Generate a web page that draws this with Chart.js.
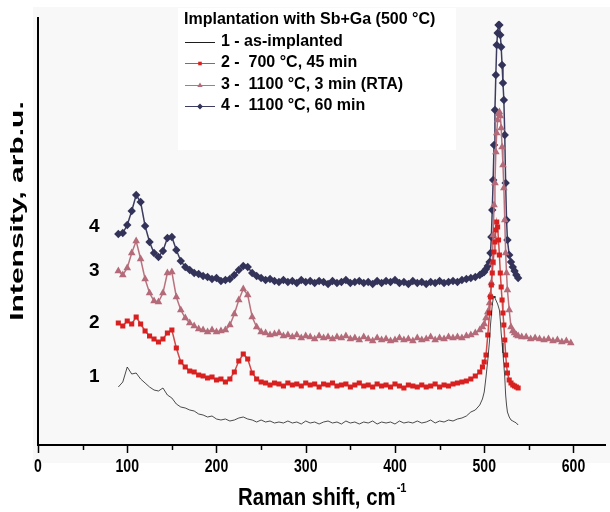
<!DOCTYPE html>
<html>
<head>
<meta charset="utf-8">
<script src="https://cdn.jsdelivr.net/npm/chart.js@4.4.0/dist/chart.umd.min.js"></script>
<style>
  html, body { margin: 0; padding: 0; background: #fff; }
</style>
</head>
<body>
<canvas id="raman" width="610" height="512"></canvas>
<script>
// Raman shift grid (cm-1), shared by spectra 1, 2 and 4
const shift = [
  90, 95, 100, 105, 110, 115, 120, 125, 130, 135,
  140, 145, 150, 155, 160, 165, 170, 175, 180, 185,
  190, 195, 200, 205, 210, 215, 220, 225, 230, 235,
  240, 245, 250, 255, 260, 265, 270, 275, 280, 285,
  290, 295, 300, 305, 310, 315, 320, 325, 330, 335,
  340, 345, 350, 355, 360, 365, 370, 375, 380, 385,
  390, 395, 400, 405, 410, 415, 420, 425, 430, 435,
  440, 445, 450, 455, 460, 465, 470, 475, 480, 485,
  490, 495,
  498, 500, 502, 504, 506, 507, 508, 509, 510, 511,
  512, 513, 514, 515, 516, 517, 518, 519, 520, 521,
  522, 523, 524, 525, 526, 528, 530, 532, 534, 536,
  538
];
// spectrum 3 runs on to ~600 cm-1
const shiftExt = [542, 547, 552, 557, 562, 567, 572, 577, 582, 587, 592, 597];

// intensities, arb.u. (curves already offset as in the figure)
const asImplanted = [
  58, 63, 78, 71, 72, 66, 62, 58, 55, 54,
  57, 50, 47, 41, 38, 37, 35, 34, 31, 30,
  28, 29, 26, 25, 26, 24, 25, 27, 28, 26,
  25, 23, 25, 23, 24, 22, 23, 22, 24, 22,
  23, 21, 24, 22, 23, 21, 23, 24, 22, 23,
  21, 24, 22, 23, 21, 23, 22, 24, 21, 23,
  22, 23, 21, 24, 22, 23, 22, 24, 22, 23,
  25, 22, 24, 23, 25, 24, 26, 27, 29, 33,
  35, 40,
  46, 53, 68, 85, 105, 120, 130, 140, 146, 149,
  147, 145, 143, 141, 138, 135, 125, 112, 102, 92,
  80, 68, 50, 40, 33, 28, 25, 24, 23, 22,
  20
];
const anneal700 = [
  122, 119, 124, 121, 128, 121, 114, 109, 106, 103,
  106, 112, 115, 97, 83, 78, 74, 73, 70, 69,
  67, 68, 65, 66, 63, 66, 73, 84, 91, 86,
  72, 66, 63, 62, 60, 62, 61, 59, 62, 60,
  61, 59, 62, 60, 61, 58, 61, 60, 62, 59,
  60, 61, 58, 60, 62, 59, 60, 58, 61, 59,
  60, 58, 61, 59, 57, 60, 59, 58, 60, 58,
  59, 61, 58, 60, 59, 61, 62, 63, 64, 66,
  69, 73,
  78, 83, 90, 110, 132, 148, 160, 172, 183, 193,
  203, 215, 223, 218, 205, 190, 172, 158, 145, 132,
  120, 105, 90, 80, 72, 65, 62, 60, 59, 58,
  57
];
const rta1100 = [
  174, 170, 177, 192, 204, 186, 166, 152, 144, 143,
  152, 172, 173, 148, 135, 127, 122, 119, 116, 115,
  113, 115, 113, 114, 115, 120, 131, 145, 156, 150,
  128, 118, 113, 112, 110, 111, 112, 109, 110, 108,
  110, 107, 109, 108, 106, 109, 107, 108, 106, 108,
  107, 109, 106, 107, 105, 108, 106, 104, 107, 105,
  106, 104, 105, 107, 105, 106, 104, 107, 105, 106,
  108, 105, 107, 106, 108, 107, 108, 107, 109, 110,
  112, 115,
  118, 121, 127, 133, 142, 150, 162, 182, 210, 240,
  262, 293, 312, 325, 331, 333, 329, 317, 298, 280,
  257, 225, 192, 172, 155, 135, 118, 114, 112, 110,
  109,
  108, 108, 106, 107, 106, 105, 106, 104, 105, 103, 104, 102
];
const anneal1100 = [
  211, 212, 220, 234, 250, 243, 219, 203, 192, 188,
  194, 207, 208, 195, 184, 178, 175, 172, 171, 169,
  168, 166, 167, 164, 165, 166, 170, 175, 179, 178,
  172, 169, 167, 165, 166, 164, 163, 165, 163, 164,
  162, 165, 163, 164, 162, 164, 163, 161, 164, 162,
  163, 165, 162, 163, 164, 162, 163, 161, 164, 162,
  164, 163, 165, 162, 163, 161, 164, 162, 163, 161,
  163, 162, 164, 162, 163, 164, 163, 165, 166, 167,
  168, 170,
  172, 173, 176, 179, 183, 192, 208, 235, 265, 300,
  335, 370, 400, 412, 420, 420, 410, 398, 380, 362,
  345, 310, 262, 225, 205, 190, 183, 178, 174, 170,
  167
];

const seriesNames = [
  '1 - as-implanted',
  '2 -  700 °C, 45 min',
  '3 -  1100 °C, 3 min (RTA)',
  '4 -  1100 °C, 60 min'
];
const curveTags = ['1', '2', '3', '4'];
const legendTitle = 'Implantation with Sb+Ga (500 °C)';
const xTicks = [0, 100, 200, 300, 400, 500, 600];

const FONT = "'Liberation Sans', Arial, sans-serif";

function pts(xs, ys) {
  return ys.map((v, i) => ({ x: xs[i], y: v }));
}

// text squeezed horizontally, like the scanned figure
function narrowText(ctx, text, x, y, sx, align) {
  ctx.save();
  ctx.translate(x, y);
  ctx.scale(sx, 1);
  ctx.textAlign = align;
  ctx.fillText(text, 0, 0);
  ctx.restore();
}

// background, legend, axis titles, tags, tick marks
const decor = {
  id: 'decor',
  beforeDraw(chart) {
    const ctx = chart.ctx;
    ctx.save();
    ctx.fillStyle = '#ffffff';
    ctx.fillRect(0, 0, chart.width, chart.height);
    ctx.fillStyle = '#f8f8f8';
    ctx.fillRect(33, 7, 577, 456);
    ctx.fillStyle = '#ffffff';
    ctx.fillRect(178, 8, 278, 142);
    ctx.restore();
  },
  afterDraw(chart) {
    const ctx = chart.ctx;
    const xs = chart.scales.x;
    const ys = chart.scales.y;
    const area = chart.chartArea;
    ctx.save();

    // tick marks every 50, longer at labelled ones
    ctx.strokeStyle = '#000';
    ctx.lineWidth = 1.5;
    for (let v = 0; v <= 600; v += 50) {
      const px = Math.round(xs.getPixelForValue(v)) + 0.5;
      const len = v % 100 === 0 ? 8 : 5;
      ctx.beginPath();
      ctx.moveTo(px, area.bottom);
      ctx.lineTo(px, area.bottom + len);
      ctx.stroke();
    }

    // tick labels
    ctx.fillStyle = '#000';
    ctx.font = 'bold 18px ' + FONT;
    ctx.textBaseline = 'middle';
    xs.ticks.forEach(t => {
      narrowText(ctx, String(t.value), xs.getPixelForValue(t.value), 467, 0.78, 'center');
    });

    // curve numbers on the left
    ctx.font = 'bold 19px ' + FONT;
    ctx.textAlign = 'center';
    const tagY = [68, 122, 174, 218];
    curveTags.forEach((t, i) => {
      ctx.fillText(t, xs.getPixelForValue(63), ys.getPixelForValue(tagY[i]));
    });

    // x title with superscript
    ctx.textBaseline = 'alphabetic';
    const main = 'Raman shift, cm';
    const sx = 0.85;
    ctx.font = 'bold 24px ' + FONT;
    const w = ctx.measureText(main).width * sx;
    ctx.font = 'bold 13px ' + FONT;
    const ws = ctx.measureText('-1').width * sx;
    const x0 = (area.left + area.right) / 2 - (w + ws) / 2;
    ctx.font = 'bold 24px ' + FONT;
    narrowText(ctx, main, x0, 505, sx, 'left');
    ctx.font = 'bold 13px ' + FONT;
    narrowText(ctx, '-1', x0 + w + 1, 492, sx, 'left');

    // y title
    ctx.save();
    ctx.translate(18, 211);
    ctx.rotate(-Math.PI / 2);
    ctx.scale(1, 0.6);
    ctx.font = 'bold 30px ' + FONT;
    ctx.textAlign = 'center';
    ctx.textBaseline = 'middle';
    ctx.fillText('Intensity, arb.u.', 0, 0);
    ctx.restore();

    // legend
    ctx.font = 'bold 16px ' + FONT;
    ctx.textAlign = 'left';
    ctx.textBaseline = 'middle';
    ctx.fillText(legendTitle, 184, 20);
    const rows = [42, 63, 85, 106];
    chart.data.datasets.forEach((ds, i) => {
      const yy = rows[i];
      ctx.strokeStyle = ds.borderColor;
      ctx.lineWidth = 1;
      ctx.beginPath();
      ctx.moveTo(185, yy + 0.5);
      ctx.lineTo(215, yy + 0.5);
      ctx.stroke();
      if (ds.pointRadius > 0) {
        ctx.fillStyle = ds.pointBackgroundColor;
        Chart.helpers.drawPoint(ctx, {
          pointStyle: ds.pointStyle, radius: ds.pointRadius * 0.7, rotation: 0, borderWidth: 0
        }, 200, yy + 0.5);
      }
      ctx.fillStyle = '#000';
      ctx.fillText(ds.label, 221, yy);
    });
    ctx.restore();
  }
};

new Chart(document.getElementById('raman'), {
  type: 'line',
  data: {
    datasets: [
      {
        label: seriesNames[0],
        data: pts(shift, asImplanted),
        borderColor: '#1e1e1e',
        borderWidth: 0.8,
        pointRadius: 0
      },
      {
        label: seriesNames[1],
        data: pts(shift, anneal700),
        borderColor: '#cf4a4a',
        borderWidth: 1.5,
        pointStyle: 'rect',
        pointRadius: 3.6,
        pointBackgroundColor: '#d82020',
        pointBorderWidth: 0
      },
      {
        label: seriesNames[2],
        data: pts(shift.concat(shiftExt), rta1100),
        borderColor: '#b9737f',
        borderWidth: 1.5,
        pointStyle: 'triangle',
        pointRadius: 4.4,
        pointBackgroundColor: '#b46a78',
        pointBorderWidth: 0
      },
      {
        label: seriesNames[3],
        data: pts(shift, anneal1100),
        borderColor: '#3c3c60',
        borderWidth: 1.5,
        pointStyle: 'rectRot',
        pointRadius: 4.2,
        pointBackgroundColor: '#33335a',
        pointBorderWidth: 0
      }
    ]
  },
  options: {
    responsive: false,
    animation: false,
    devicePixelRatio: 1,
    layout: { padding: { top: 18, right: 2, left: 0, bottom: 0 } },
    elements: { line: { tension: 0 } },
    plugins: {
      legend: { display: false },
      tooltip: { enabled: false }
    },
    scales: {
      x: {
        type: 'linear',
        min: 0,
        max: 636,
        afterFit(scale) { scale.height = 67; },
        afterBuildTicks(scale) { scale.ticks = xTicks.map(v => ({ value: v })); },
        grid: { display: false },
        border: { display: true, color: '#000', width: 2 },
        ticks: { display: false }
      },
      y: {
        min: 0,
        max: 427,
        afterFit(scale) { scale.width = 38; },
        grid: { display: false },
        border: { display: true, color: '#000', width: 2 },
        ticks: { display: false }
      }
    }
  },
  plugins: [decor]
});
</script>
</body>
</html>
